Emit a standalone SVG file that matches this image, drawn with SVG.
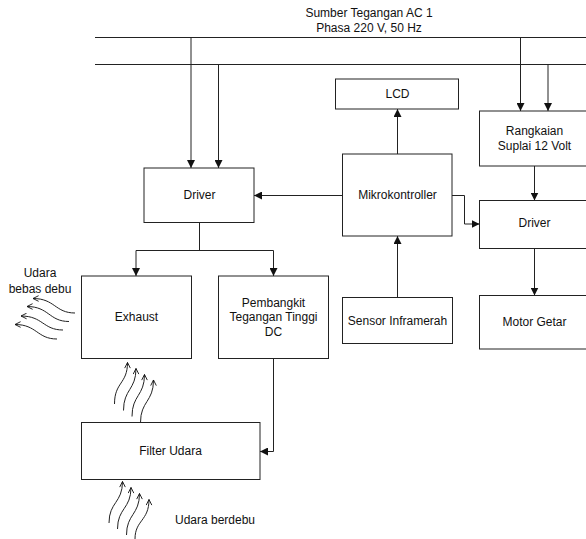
<svg xmlns="http://www.w3.org/2000/svg" width="586" height="539" viewBox="0 0 586 539">
<style>
  .box{fill:#fff;stroke:#222;stroke-width:1}
  .ln{fill:none;stroke:#222;stroke-width:1}
  .arr{fill:none;stroke:#222;stroke-width:1;marker-end:url(#ah)}
  .wv{fill:none;stroke:#222;stroke-width:1;marker-end:url(#oh)}
  text{font-family:"Liberation Sans",Arial,sans-serif;font-size:12px;fill:#111;text-anchor:middle}
</style>
<defs>
  <marker id="ah" viewBox="0 0 10 10" refX="10" refY="5" markerWidth="8" markerHeight="8" markerUnits="userSpaceOnUse" orient="auto">
    <path d="M0,0 L10,5 L0,10 Z" fill="#111"/>
  </marker>
  <marker id="oh" viewBox="0 0 10 10" refX="9" refY="5" markerWidth="7" markerHeight="7" markerUnits="userSpaceOnUse" orient="auto">
    <path d="M1,1 L9,5 L1,9" fill="none" stroke="#111" stroke-width="1.3"/>
  </marker>
</defs>
<rect width="586" height="539" fill="#fff"/>

<g id="source">
  <text x="369" y="17">Sumber Tegangan AC 1</text>
  <text x="369" y="32">Phasa 220 V, 50 Hz</text>
</g>

<g id="connectors">
  <line class="ln" x1="95" y1="37.5" x2="586" y2="37.5"/>
  <line class="ln" x1="95" y1="64.5" x2="586" y2="64.5"/>
  <line class="arr" x1="191" y1="37.5" x2="191" y2="168"/>
  <line class="arr" x1="218.5" y1="64.5" x2="218.5" y2="168"/>
  <line class="arr" x1="520.5" y1="37.5" x2="520.5" y2="111"/>
  <line class="arr" x1="548" y1="64.5" x2="548" y2="111"/>
  <line class="arr" x1="397.5" y1="154" x2="397.5" y2="109"/>
  <line class="arr" x1="342" y1="195.5" x2="254" y2="195.5"/>
  <polyline class="arr" points="452,195.5 464.5,195.5 464.5,224 479.5,224"/>
  <line class="arr" x1="534.5" y1="166" x2="534.5" y2="200.5"/>
  <line class="arr" x1="534.5" y1="248.5" x2="534.5" y2="295.5"/>
  <line class="arr" x1="397.5" y1="297.5" x2="397.5" y2="236"/>
  <polyline class="ln" points="199.5,222.5 199.5,250.5"/>
  <line class="ln" x1="136" y1="250.5" x2="273.5" y2="250.5"/>
  <line class="arr" x1="136" y1="250.5" x2="136" y2="276"/>
  <line class="arr" x1="273.5" y1="250.5" x2="273.5" y2="276"/>
  <polyline class="arr" points="273.5,358.5 273.5,451.5 260,451.5"/>
  <!-- wavy air flows out of exhaust -->
  <path class="wv" d="M75,313 C55,313 55,298.5 33,298.5"/>
  <path class="wv" d="M69,321.5 C49,321.5 49,306.5 27,306.5"/>
  <path class="wv" d="M63,330 C43,330 43,316 21,316"/>
  <path class="wv" d="M57,339 C37,339 37,324.5 15,324.5"/>
  <!-- wavy air from filter to exhaust -->
  <path class="wv" d="M114.5,404 C114.5,382 127.5,384 127.5,362.5"/>
  <path class="wv" d="M123.5,410.5 C123.5,389 136,390 136,368.5"/>
  <path class="wv" d="M132,416.5 C132,395 144.5,396 144.5,374.5"/>
  <path class="wv" d="M140.5,422.5 C140.5,401 153.5,402 153.5,380"/>
  <!-- dusty air into filter -->
  <path class="wv" d="M109,523 C109,502 122.5,503 122.5,481.5"/>
  <path class="wv" d="M117.5,529 C117.5,508 131,509 131,487.5"/>
  <path class="wv" d="M126.5,535 C126.5,514 139.5,515 139.5,493.5"/>
  <path class="wv" d="M135,539 C135,520 149,521 149,499.5"/>
</g>

<g id="lcd">
  <rect class="box" x="335.5" y="79" width="123" height="30"/>
  <text x="397.5" y="98">LCD</text>
</g>
<g id="mikrokontroller">
  <rect class="box" x="342.5" y="154" width="109.5" height="82"/>
  <text x="397.5" y="199">Mikrokontroller</text>
</g>
<g id="rangkaian">
  <rect class="box" x="479.5" y="111" width="112" height="55"/>
  <text x="534.5" y="135">Rangkaian</text>
  <text x="534.5" y="150">Suplai 12 Volt</text>
</g>
<g id="driver-left">
  <rect class="box" x="144" y="168" width="110" height="54.5"/>
  <text x="199.5" y="199">Driver</text>
</g>
<g id="driver-right">
  <rect class="box" x="479.5" y="200.5" width="112" height="48"/>
  <text x="534.5" y="227">Driver</text>
</g>
<g id="motor">
  <rect class="box" x="479.5" y="295.5" width="112" height="53.5"/>
  <text x="534.5" y="326">Motor Getar</text>
</g>
<g id="sensor">
  <rect class="box" x="342.5" y="297.5" width="110" height="46"/>
  <text x="397.5" y="325">Sensor Inframerah</text>
</g>
<g id="exhaust">
  <rect class="box" x="81.5" y="276" width="110" height="82.5"/>
  <text x="136.5" y="321">Exhaust</text>
  <text x="40" y="277">Udara</text>
  <text x="40" y="293">bebas debu</text>
</g>
<g id="pembangkit">
  <rect class="box" x="218.5" y="276" width="110" height="82.5"/>
  <text x="273.5" y="307">Pembangkit</text>
  <text x="273.5" y="321">Tegangan Tinggi</text>
  <text x="273.5" y="336">DC</text>
</g>
<g id="filter">
  <rect class="box" x="81.5" y="422.5" width="178.5" height="57"/>
  <text x="170.5" y="455">Filter Udara</text>
  <text x="215" y="524">Udara berdebu</text>
</g>
</svg>
